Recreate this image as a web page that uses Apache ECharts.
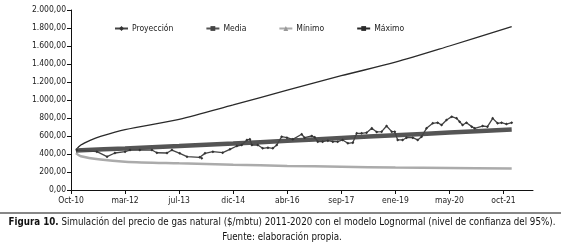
<!DOCTYPE html>
<html>
<head>
<meta charset="utf-8">
<script src="https://cdn.jsdelivr.net/npm/echarts@6/dist/echarts.min.js"></script>
<style>
html,body{margin:0;padding:0;background:#fff;}
#c{width:563px;height:246px;}
</style>
</head>
<body>
<div id="c"></div>
<script>
// x positions are months since Oct-2010
var tickMonths = [0, 16.5, 33, 49.5, 66, 82.5, 99, 115.5, 132];
var tickLabels = ['Oct-10', 'mar-12', 'jul-13', 'dic-14', 'abr-16', 'sep-17', 'ene-19', 'may-20', 'oct-21'];

var projMonths = [1.8, 7.9, 11.0, 13.4, 16.5, 18.0, 21.0, 24.7, 26.2, 29.3, 30.8, 33.2, 35.4, 39.3, 39.9, 40.9, 43.3, 46.3, 48.5, 50.6, 52.1, 53.7, 54.6, 55.2, 57.0, 58.5, 60.1, 61.6, 62.8, 64.3, 65.9, 67.7, 70.4, 71.3, 73.5, 74.4, 75.3, 76.8, 78.4, 79.9, 81.4, 82.9, 84.5, 86.0, 87.2, 88.7, 90.2, 91.8, 93.3, 94.8, 96.3, 97.9, 98.8, 99.7, 101.2, 102.4, 104.3, 105.8, 107.0, 108.5, 110.4, 111.9, 113.1, 114.6, 116.2, 117.7, 118.6, 119.5, 120.7, 122.3, 123.2, 125.6, 127.1, 128.7, 130.2, 131.4, 132.9, 134.5];
var projValues = [444, 426, 370, 411, 426, 444, 444, 444, 414, 411, 444, 407, 370, 363, 352, 407, 426, 415, 452, 489, 500, 556, 563, 500, 500, 463, 470, 463, 500, 593, 581, 563, 619, 581, 600, 585, 537, 537, 548, 537, 537, 556, 519, 526, 630, 630, 637, 685, 645, 648, 711, 648, 648, 556, 556, 581, 581, 556, 593, 685, 741, 748, 722, 778, 815, 796, 759, 722, 748, 704, 685, 711, 704, 796, 741, 748, 733, 748];

var mediaMonths = [1.5, 16.5, 33, 49.5, 66, 82.5, 99, 115.5, 134.5];
var mediaValues = [440, 462, 488, 516, 546, 578, 608, 638, 672];

var minMonths = [1.5, 3, 9, 16.5, 33, 49.5, 66, 82.5, 99, 115.5, 134.5];
var minValues = [410, 375, 338, 315, 296, 280, 268, 258, 250, 245, 238];

var maxMonths = [1.5, 3, 6, 9, 16.5, 33, 49.5, 66, 82.5, 99, 115.5, 134.5];
var maxValues = [445, 500, 555, 595, 670, 785, 945, 1110, 1270, 1420, 1600, 1815];

function pairs(xs, ys) { return xs.map(function (x, i) { return [x, ys[i]]; }); }

var FONT = "'Liberation Sans Narrow', 'DejaVu Sans Condensed', 'Liberation Sans', sans-serif";

function fmtNum(v) {
  var s = Math.round(v).toString();
  s = s.replace(/\B(?=(\d{3})+(?!\d))/g, '.');
  return s + ',00';
}

var chart = echarts.init(document.getElementById('c'), null, { renderer: 'canvas' });
chart.setOption({
  animation: false,
  backgroundColor: '#fff',
  grid: { left: 71, right: 30, top: 10, bottom: 56, containLabel: false },
  legend: {
    left: 109, top: 19, itemWidth: 13, itemHeight: 6, itemGap: 32,
    textStyle: { fontFamily: FONT, fontSize: 8.5, color: '#222', padding: [0, 0, 0, -1] },
    data: ['Proyección', 'Media', 'Mínimo', 'Máximo']
  },
  xAxis: {
    type: 'value', min: 0, max: 141,
    splitLine: { show: false },
    axisLine: { lineStyle: { color: '#111', width: 1 } },
    axisTick: { show: true, length: 4, customValues: tickMonths, lineStyle: { color: '#111' } },
    axisLabel: {
      customValues: tickMonths, margin: 6,
      fontFamily: FONT, fontSize: 8.5, color: '#222',
      formatter: function (v) {
        var i = tickMonths.indexOf(v);
        return i >= 0 ? tickLabels[i] : '';
      }
    }
  },
  yAxis: {
    type: 'value', min: 0, max: 2000, interval: 200,
    splitLine: { show: false },
    axisLine: { show: true, lineStyle: { color: '#111', width: 1 } },
    axisTick: { show: true, length: 4, lineStyle: { color: '#111' } },
    axisLabel: { fontFamily: FONT, fontSize: 8.5, color: '#222', margin: 5, formatter: fmtNum }
  },
  series: [
    {
      name: 'Máximo', type: 'line', data: pairs(maxMonths, maxValues), smooth: 0.3,
      showSymbol: false, symbol: 'rect', symbolSize: [4, 1.5],
      lineStyle: { color: '#2a2a2a', width: 1.3 }, itemStyle: { color: '#2a2a2a' }, z: 2
    },
    {
      name: 'Mínimo', type: 'line', data: pairs(minMonths, minValues), smooth: 0.3,
      showSymbol: false, symbol: 'triangle', symbolSize: 4,
      lineStyle: { color: '#ababab', width: 2.5 }, itemStyle: { color: '#999' }, z: 2
    },
    {
      name: 'Media', type: 'line', data: pairs(mediaMonths, mediaValues), smooth: 0.3,
      showSymbol: false, symbol: 'rect', symbolSize: 5,
      lineStyle: { color: '#555', width: 4.5 }, itemStyle: { color: '#444' }, z: 3
    },
    {
      name: 'Proyección', type: 'line', data: pairs(projMonths, projValues),
      showSymbol: true, symbol: 'diamond', symbolSize: 3,
      lineStyle: { color: '#444', width: 1.3 }, itemStyle: { color: '#333' }, z: 4
    }
  ],
  graphic: [
    { type: 'line', shape: { x1: 0, y1: 213, x2: 561, y2: 213 }, style: { stroke: '#111', lineWidth: 1.2 } },
    {
      type: 'text', x: 282, y: 217, scaleX: 0.97,
      style: {
        text: '{b|Figura 10.} Simulación del precio de gas natural ($/mbtu) 2011-2020 con el modelo Lognormal (nivel de confianza del 95%).',
        fontFamily: FONT, fontSize: 10, fill: '#111', align: 'center', verticalAlign: 'top',
        rich: { b: { fontWeight: 'bold', fontFamily: FONT, fontSize: 10 } }
      }
    },
    {
      type: 'text', x: 282, y: 232, scaleX: 0.97,
      style: { text: 'Fuente: elaboración propia.', fontFamily: FONT, fontSize: 10, fill: '#111', align: 'center', verticalAlign: 'top' }
    }
  ]
});
</script>
</body>
</html>
